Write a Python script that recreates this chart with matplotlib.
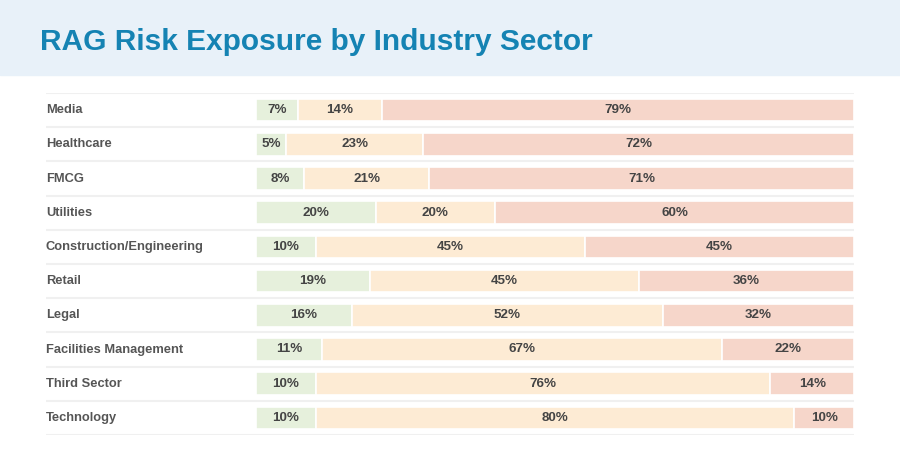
import matplotlib.pyplot as plt
from matplotlib.patches import Rectangle

plt.rcParams['font.family'] = ['Liberation Sans', 'DejaVu Sans']

sectors = ['Media', 'Healthcare', 'FMCG', 'Utilities', 'Construction/Engineering',
           'Retail', 'Legal', 'Facilities Management', 'Third Sector', 'Technology']
green = [7, 5, 8, 20, 10, 19, 16, 11, 10, 10]
amber = [14, 23, 21, 20, 45, 45, 52, 67, 76, 80]
red = [79, 72, 71, 60, 45, 36, 32, 22, 14, 10]

colors = ['#E6F0DC', '#FDEBD4', '#F6D6CA']
W, H = 900, 454

fig = plt.figure(figsize=(W / 100, H / 100), dpi=100)

# header band
fig.patches.append(Rectangle((0, (H - 75) / H), 1, 75 / H, transform=fig.transFigure,
                             color='#E8F1F9', zorder=0))
fig.text(40 / W, 1 - 42 / H, 'RAG Risk Exposure by Industry Sector', fontsize=21.5,
         fontweight='bold', color='#1583B3', va='center', ha='left')

# axes spanning label column + bars (pixels 46..854, rows 93..435)
left_px, right_px, top_px, bot_px = 46, 854, 93, 435
ax = fig.add_axes([left_px / W, (H - bot_px) / H, (right_px - left_px) / W, (bot_px - top_px) / H])
px_per_unit = (854 - 256) / 100
xmin = -(256 - left_px) / px_per_unit
ax.set_xlim(xmin, 100)
n = len(sectors)
ax.set_ylim(n, 0)
ax.axis('off')

ax.hlines(range(n + 1), xmin, 100, color='#F0F0F0', linewidth=1.5)

for i, name in enumerate(sectors):
    y = i + 0.5
    ax.text(xmin, y, name, ha='left', va='center', fontsize=9.3, fontweight='bold', color='#555555')
    start = 0
    for val, c in zip([green[i], amber[i], red[i]], colors):
        ax.barh(y, val, left=start, height=0.66, color=c, edgecolor='white', linewidth=1.2)
        ax.text(start + val / 2, y, f'{val}%', ha='center', va='center', fontsize=9.6,
                fontweight='bold', color='#444444')
        start += val

fig.savefig('out.png', dpi=100)
